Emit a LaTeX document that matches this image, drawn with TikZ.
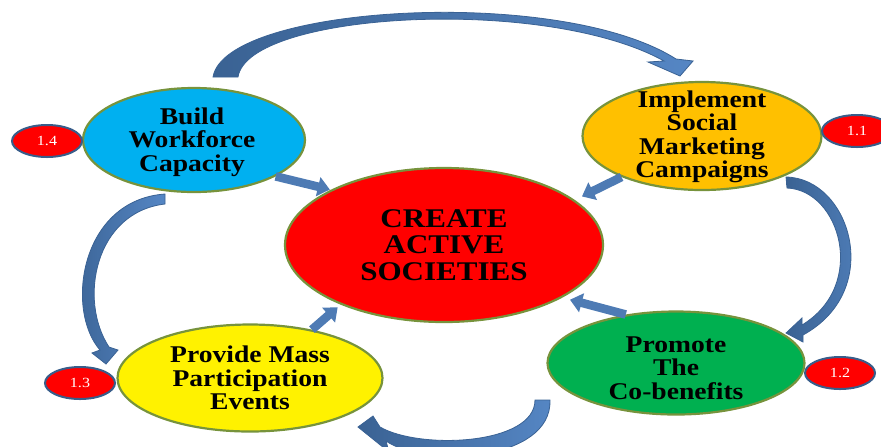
\documentclass[tikz,border=0pt]{standalone}
\usepackage{fontspec}
\setmainfont{Liberation Serif}[FakeStretch=1.15]
\usetikzlibrary{shapes.geometric,arrows.meta}

\definecolor{rimgreen}{HTML}{77933C}
\definecolor{capblue}{HTML}{00B0F0}
\definecolor{campgold}{HTML}{FFC000}
\definecolor{benefitgreen}{HTML}{00B050}
\definecolor{tagrim}{HTML}{385D8A}
\definecolor{flowdark}{HTML}{3A6293}
\definecolor{flowlight}{HTML}{5586C4}
\definecolor{flowrim}{HTML}{3A6294}

\tikzset{
    goal/.style={ellipse, draw=rimgreen, line width=1.1pt, inner sep=0pt},
    words/.style={align=center, inner sep=0pt, font=\bfseries\fontsize{12}{11.7}\selectfont},
    badge/.style={ellipse, draw=tagrim, line width=1pt, fill=red, text=white,
        minimum width=35pt, minimum height=16pt, inner sep=0pt, font=\fontsize{7}{8}\selectfont},
    feed/.style={line width=4.3pt, draw=flowlight!92!black, -{Triangle[length=6pt,width=9.5pt]}},
    swing/.style={left color=flowdark, right color=flowlight, draw=flowrim, line width=0.4pt}
}

\begin{document}
\begin{tikzpicture}[x=0.5pt,y=-0.5pt]
    \useasboundingbox (0,0) rectangle (881,446);
    \clip (0,0) rectangle (881,446);

    \path[swing] (213,77) .. controls (225,5) and (560,-15) .. (676,59) -- (693,61) -- (680,76)
        -- (648,62) -- (664,61) .. controls (545,-5) and (248,12) .. (238,77) -- cycle;
    \path[swing] (786,177) .. controls (850,178) and (885,290) .. (803,335) -- (803,342) -- (786,333)
        -- (802,318) -- (802,325) .. controls (868,285) and (840,190) .. (787,188) -- cycle;
    \path[swing] (550,400) .. controls (552,462) and (425,468) .. (386,441) -- (389,452) -- (358,427)
        -- (373,416) -- (380,427) .. controls (420,450) and (535,445) .. (535,400) -- cycle;
    \path[swing] (165,194) .. controls (80,200) and (65,310) .. (100,350) -- (92,353) -- (106,364)
        -- (118,350) -- (109,347) .. controls (78,300) and (95,212) .. (165,204) -- cycle;

    \node[goal, fill=red, minimum width=159pt, minimum height=77pt] (create) at (444,245) {};
    \node[words, font=\bfseries\fontsize{13.5}{13.3}\selectfont] (create-t) at (create) {CREATE\\ACTIVE\\SOCIETIES};

    \node[goal, fill=capblue, minimum width=111pt, minimum height=52pt] (build) at (194,140) {};
    \node[words] (build-t) at (192,142) {Build\\Workforce\\Capacity};

    \node[goal, fill=campgold, minimum width=119.5pt, minimum height=54pt] (implement) at (702,136) {};
    \node[words] (implement-t) at (702,137) {Implement\\Social\\Marketing\\Campaigns};

    \node[goal, fill=yellow, minimum width=132.5pt, minimum height=53.5pt] (provide) at (250,378) {};
    \node[words] (provide-t) at (provide) {Provide Mass\\Participation\\Events};

    \node[goal, fill=benefitgreen, minimum width=128.5pt, minimum height=51.5pt] (promote) at (676,363) {};
    \node[words] (promote-t) at (676,368) {Promote\\The\\Co-benefits};

    \draw[feed, shorten >=0.5pt] (build.-24) -- (create.154);
    \draw[feed, shorten >=2pt] (provide.38) -- (create.210);
    \draw[feed, shorten >=4pt] (implement.207) -- (create.19);
    \draw[feed, shorten >=4pt] (promote.136) -- (create.-24);

    \foreach \tagname/\x/\y/\num in {b11/857/131/1.1, b12/840/373/1.2, b13/80/383/1.3, b14/47/141/1.4}
        \node[badge] (\tagname) at (\x,\y) {\num};
\end{tikzpicture}
\end{document}
